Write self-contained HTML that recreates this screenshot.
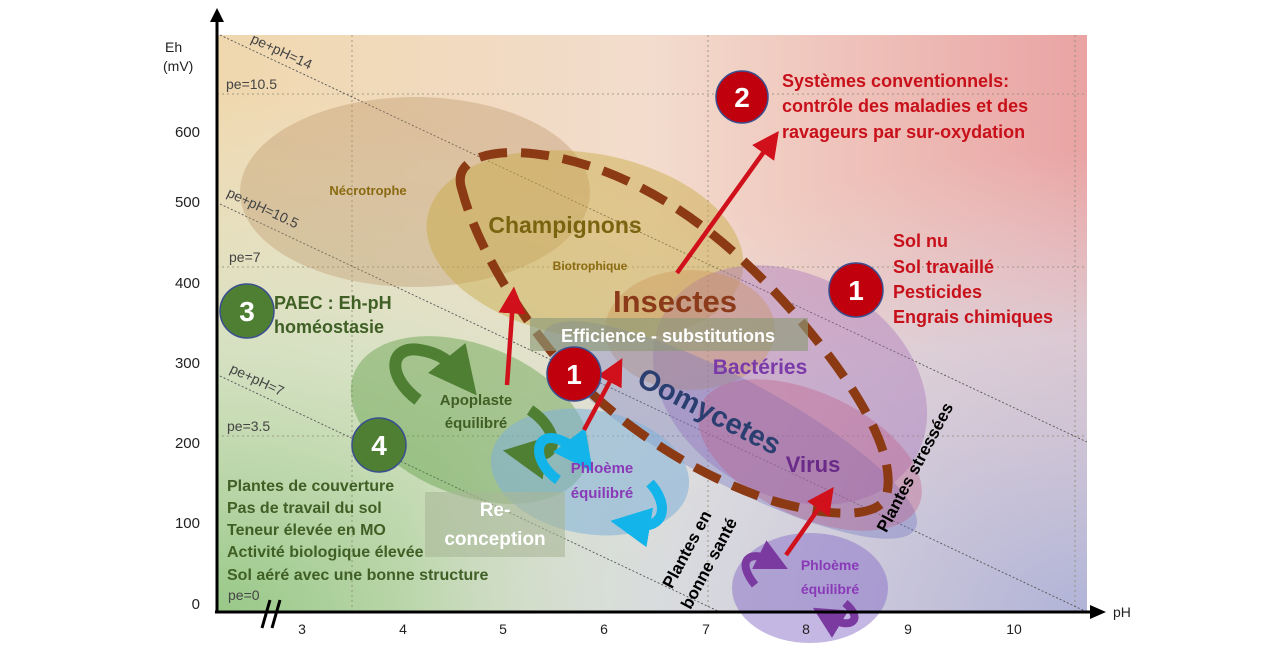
<!DOCTYPE html>
<html><head><meta charset="utf-8"><style>
body{margin:0;background:#fff}
svg{display:block;font-family:"Liberation Sans",sans-serif}
</style></head><body>
<svg width="1280" height="653" viewBox="0 0 1280 653" xmlns="http://www.w3.org/2000/svg">
<defs>
<linearGradient id="bgh" x1="0" y1="0" x2="1" y2="0">
<stop offset="0" stop-color="#efd8ae"/><stop offset="0.5" stop-color="#f3dccd"/><stop offset="1" stop-color="#e9a3a3"/>
</linearGradient>
<radialGradient id="gl" cx="0" cy="1" r="0.9">
<stop offset="0" stop-color="#98c888"/><stop offset="0.5" stop-color="#cfe3c6" stop-opacity="0.8"/><stop offset="1" stop-color="#e8eee0" stop-opacity="0"/>
</radialGradient>
<radialGradient id="bl" cx="1" cy="1" r="0.8">
<stop offset="0" stop-color="#b0b4d8"/><stop offset="0.6" stop-color="#d6d8e6" stop-opacity="0.7"/><stop offset="1" stop-color="#e6e0e6" stop-opacity="0"/>
</radialGradient>
<marker id="ar" markerWidth="6" markerHeight="6" refX="3" refY="3" orient="auto" markerUnits="strokeWidth"><path d="M0,0L6,3L0,6z" fill="#d0101a"/></marker>
<marker id="ag" markerWidth="4" markerHeight="4" refX="1.5" refY="2" orient="auto" markerUnits="strokeWidth"><path d="M0,0L4,2L0,4z" fill="#4f7f33"/></marker>
<marker id="ac" markerWidth="4" markerHeight="4" refX="1.5" refY="2" orient="auto" markerUnits="strokeWidth"><path d="M0,0L4,2L0,4z" fill="#12b4ea"/></marker>
<marker id="ap" markerWidth="4" markerHeight="4" refX="1.5" refY="2" orient="auto" markerUnits="strokeWidth"><path d="M0,0L4,2L0,4z" fill="#7a3aa0"/></marker>
</defs>
<rect x="217" y="35" width="870" height="577" fill="url(#bgh)"/>
<rect x="217" y="35" width="870" height="577" fill="url(#gl)"/>
<rect x="217" y="35" width="870" height="577" fill="url(#bl)"/>
<g stroke="#8a8a70" stroke-width="0.8" stroke-dasharray="2 3" fill="none">
<line x1="217" y1="94" x2="1087" y2="94"/><line x1="217" y1="267" x2="1087" y2="267"/><line x1="217" y1="436" x2="1087" y2="436"/>
<line x1="352" y1="35" x2="352" y2="612"/><line x1="708" y1="35" x2="708" y2="612"/><line x1="1075" y1="35" x2="1075" y2="612"/>
</g>
<g stroke="#555" stroke-width="0.9" stroke-dasharray="2 2" fill="none">
<line x1="220" y1="35" x2="1087" y2="442"/><line x1="220" y1="204" x2="1087" y2="612"/><line x1="220" y1="376" x2="720" y2="612"/>
</g>
<ellipse cx="415" cy="192" rx="175" ry="95" fill="#b89060" opacity="0.35"/>
<ellipse cx="585" cy="245" rx="160" ry="92" fill="#c8a840" opacity="0.45" transform="rotate(10 585 245)"/>
<ellipse cx="790" cy="385" rx="145" ry="110" fill="#a870b8" opacity="0.4" transform="rotate(30 790 385)"/>
<ellipse cx="690" cy="330" rx="85" ry="60" fill="#c89050" opacity="0.35"/>
<ellipse cx="730" cy="430" rx="210" ry="52" fill="#6a70c0" opacity="0.35" transform="rotate(28 730 430)"/>
<ellipse cx="810" cy="455" rx="120" ry="62" fill="#c05880" opacity="0.35" transform="rotate(25 810 455)"/>
<ellipse cx="470" cy="420" rx="125" ry="75" fill="#5a9a40" opacity="0.42" transform="rotate(22 470 420)"/>
<ellipse cx="590" cy="472" rx="100" ry="62" fill="#80b0d8" opacity="0.55" transform="rotate(10 590 472)"/>
<ellipse cx="810" cy="588" rx="78" ry="55" fill="#8a70c8" opacity="0.5"/>
<path d="M462,190 C450,155 500,145 560,158 C660,180 740,250 800,320 C860,390 900,460 885,500 C870,520 820,515 770,500 C680,470 600,410 550,350 C510,300 475,240 462,190Z" fill="none" stroke="#8b3a14" stroke-width="9" stroke-dasharray="28 14"/>
<rect x="530" y="318" width="278" height="33" fill="#8e9a78" opacity="0.65"/>
<text x="668" y="342" font-size="18" font-weight="bold" fill="#fff" text-anchor="middle">Efficience  - substitutions</text>
<rect x="425" y="492" width="140" height="65" fill="#a8b898" opacity="0.6"/>
<text x="495" y="516" font-size="19" font-weight="bold" fill="#fff" text-anchor="middle">Re-</text>
<text x="495" y="545" font-size="19" font-weight="bold" fill="#fff" text-anchor="middle">conception</text>
<path d="M418,400 C385,375 390,345 420,350 C440,353 450,362 458,372" fill="none" stroke="#4f7f33" stroke-width="12" marker-end="url(#ag)"/>
<path d="M530,410 C560,430 560,460 530,455" fill="none" stroke="#4f7f33" stroke-width="11" marker-end="url(#ag)"/>
<path d="M558,480 C530,460 535,430 560,440 C570,444 575,448 578,452" fill="none" stroke="#12b4ea" stroke-width="10" marker-end="url(#ac)"/>
<path d="M650,483 C670,505 665,530 635,525" fill="none" stroke="#12b4ea" stroke-width="10" marker-end="url(#ac)"/>
<path d="M755,585 C735,560 750,550 770,560" fill="none" stroke="#7a3aa0" stroke-width="8" marker-end="url(#ap)"/>
<path d="M845,603 C865,620 850,630 830,618" fill="none" stroke="#7a3aa0" stroke-width="8" marker-end="url(#ap)"/>
<g stroke="#d0101a" stroke-width="4.5" fill="none">
<line x1="677" y1="273" x2="771" y2="142" marker-end="url(#ar)"/>
<line x1="507" y1="385" x2="513" y2="300" marker-end="url(#ar)"/>
<line x1="584" y1="430" x2="616" y2="370" marker-end="url(#ar)"/>
<line x1="786" y1="555" x2="826" y2="498" marker-end="url(#ar)"/>
</g>
<line x1="217" y1="612" x2="217" y2="20" stroke="#000" stroke-width="3"/>
<path d="M210,22L217,8L224,22z" fill="#000"/>
<line x1="215" y1="612" x2="1092" y2="612" stroke="#000" stroke-width="3"/>
<path d="M1090,605L1106,612L1090,619z" fill="#000"/>
<g stroke="#000" stroke-width="3"><line x1="262" y1="628" x2="270" y2="600"/><line x1="272" y1="628" x2="280" y2="600"/></g>
<g font-size="15" fill="#222" text-anchor="end">
<text x="200" y="137">600</text><text x="200" y="207">500</text><text x="200" y="288">400</text><text x="200" y="368">300</text><text x="200" y="448">200</text><text x="200" y="528">100</text><text x="200" y="609">0</text>
</g>
<text x="165" y="52" font-size="14" fill="#222">Eh</text><text x="163" y="71" font-size="14" fill="#222">(mV)</text>
<g font-size="14" fill="#222" text-anchor="middle">
<text x="302" y="634">3</text><text x="403" y="634">4</text><text x="503" y="634">5</text><text x="604" y="634">6</text><text x="706" y="634">7</text><text x="806" y="634">8</text><text x="908" y="634">9</text><text x="1014" y="634">10</text>
</g>
<text x="1113" y="617" font-size="14" fill="#222">pH</text>
<g font-size="14" fill="#444">
<text x="226" y="89">pe=10.5</text><text x="229" y="262">pe=7</text><text x="227" y="431">pe=3.5</text><text x="228" y="600">pe=0</text>
<text x="250" y="42" transform="rotate(25 250 42)">pe+pH=14</text>
<text x="226" y="196" transform="rotate(25 226 196)">pe+pH=10.5</text>
<text x="229" y="372" transform="rotate(25 229 372)">pe+pH=7</text>
</g>
<text x="368" y="195" font-size="13" font-weight="bold" fill="#8a6a10" text-anchor="middle">Nécrotrophe</text>
<text x="565" y="233" font-size="23" font-weight="bold" fill="#7a6410" text-anchor="middle">Champignons</text>
<text x="590" y="270" font-size="12" font-weight="bold" fill="#8a6a10" text-anchor="middle">Biotrophique</text>
<text x="675" y="312" font-size="31" font-weight="bold" fill="#8b3a1a" text-anchor="middle">Insectes</text>
<text x="760" y="374" font-size="21" font-weight="bold" fill="#7a3aa8" text-anchor="middle">Bactéries</text>
<text x="705" y="420" font-size="29" font-weight="bold" fill="#2a3f70" text-anchor="middle" transform="rotate(27 705 420)">Oomycetes</text>
<text x="813" y="472" font-size="22" font-weight="bold" fill="#6a2a88" text-anchor="middle">Virus</text>
<text x="476" y="405" font-size="15" font-weight="bold" fill="#3f5f25" text-anchor="middle">Apoplaste</text>
<text x="476" y="428" font-size="15" font-weight="bold" fill="#3f5f25" text-anchor="middle">équilibré</text>
<text x="602" y="473" font-size="15" font-weight="bold" fill="#8a3ab8" text-anchor="middle">Phloème</text>
<text x="602" y="498" font-size="15" font-weight="bold" fill="#8a3ab8" text-anchor="middle">équilibré</text>
<text x="830" y="570" font-size="14" font-weight="bold" fill="#8a3ab8" text-anchor="middle">Phloème</text>
<text x="830" y="594" font-size="14" font-weight="bold" fill="#8a3ab8" text-anchor="middle">équilibré</text>
<g font-size="17" font-weight="bold" fill="#000" text-anchor="middle">
<text x="692" y="552" transform="rotate(-62 692 552)">Plantes en</text>
<text x="714" y="566" transform="rotate(-62 714 566)">bonne santé</text>
<text x="920" y="470" transform="rotate(-62 920 470)">Plantes  stressées</text>
</g>
<g font-size="16" font-weight="bold" fill="#3f5f25">
<text x="227" y="491">Plantes de couverture</text>
<text x="227" y="513">Pas de travail du sol</text>
<text x="227" y="535">Teneur élevée en MO</text>
<text x="227" y="557">Activité biologique élevée</text>
<text x="227" y="580">Sol aéré avec une bonne structure</text>
</g>
<text x="274" y="309" font-size="18" font-weight="bold" fill="#3f5f25">PAEC : Eh-pH</text>
<text x="274" y="333" font-size="18" font-weight="bold" fill="#3f5f25">homéostasie</text>
<g font-size="18" font-weight="bold" fill="#c8101a">
<text x="782" y="87">Systèmes conventionnels:</text>
<text x="782" y="112">contrôle des maladies et des</text>
<text x="782" y="138">ravageurs par sur-oxydation</text>
<text x="893" y="247">Sol nu</text>
<text x="893" y="273">Sol travaillé</text>
<text x="893" y="298">Pesticides</text>
<text x="893" y="323">Engrais chimiques</text>
</g>
<g stroke="#3a4f90" stroke-width="1.5">
<circle cx="742" cy="97" r="26" fill="#c0000c"/>
<circle cx="856" cy="290" r="27" fill="#c0000c"/>
<circle cx="574" cy="374" r="27" fill="#c0000c"/>
<circle cx="247" cy="311" r="27" fill="#4f7f33"/>
<circle cx="379" cy="445" r="27" fill="#4f7f33"/>
</g>
<g font-size="28" font-weight="bold" fill="#fff" text-anchor="middle">
<text x="742" y="107">2</text><text x="856" y="300">1</text><text x="574" y="384">1</text><text x="247" y="321">3</text><text x="379" y="455">4</text>
</g>
</svg>
</body></html>
